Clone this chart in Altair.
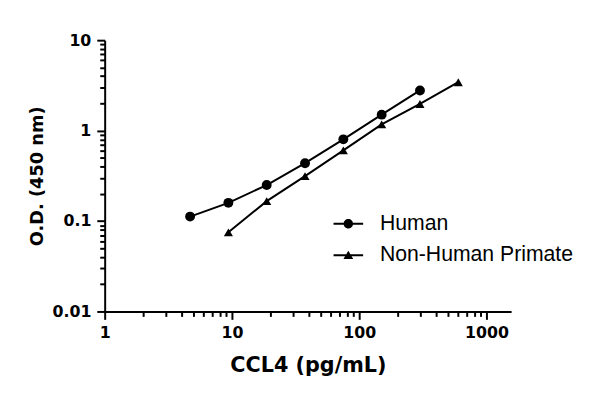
import altair as alt
import pandas as pd

# Data
series_names = ["Human", "Non-Human Primate"]
human_x = [4.6875, 9.375, 18.75, 37.5, 75, 150, 300]
human_y = [0.112, 0.159, 0.25, 0.436, 0.80, 1.50, 2.78]
nhp_x = [9.375, 18.75, 37.5, 75, 150, 300, 600]
nhp_y = [0.075, 0.166, 0.314, 0.604, 1.17, 1.97, 3.43]

x_ticks = [1, 2, 3, 4, 5, 6, 7, 8, 9,
           10, 20, 30, 40, 50, 60, 70, 80, 90,
           100, 200, 300, 400, 500, 600, 700, 800, 900, 1000]
y_ticks = [0.01, 0.02, 0.03, 0.04, 0.05, 0.06, 0.07, 0.08, 0.09,
           0.1, 0.2, 0.3, 0.4, 0.5, 0.6, 0.7, 0.8, 0.9,
           1, 2, 3, 4, 5, 6, 7, 8, 9, 10]

df = pd.concat([
    pd.DataFrame({"conc": human_x, "od": human_y, "series": series_names[0]}),
    pd.DataFrame({"conc": nhp_x, "od": nhp_y, "series": series_names[1]}),
], ignore_index=True)

major = "abs(log(datum.value)/LN10 - round(log(datum.value)/LN10)) < 1e-6"
num_font = "DejaVu Sans"

x_axis = alt.Axis(
    values=x_ticks, title="CCL4 (pg/mL)", format="~g",
    labelExpr=f"({major}) ? datum.label : ''",
    tickSize={"condition": {"test": major, "value": 8}, "value": 5},
    tickWidth=2, domainWidth=2, domainColor="black", tickColor="black",
    labelFont=num_font, labelFontWeight="bold", labelFontSize=16, labelColor="black",
    labelPadding=5, labelFlush=False, labelOverlap=False,
    titleFont=num_font, titleFontWeight="bold", titleFontSize=21, titleColor="black",
    titlePadding=15, grid=False,
)
y_axis = alt.Axis(
    values=y_ticks, title="O.D. (450 nm)", format="~g",
    labelExpr=f"({major}) ? datum.label : ''",
    tickSize={"condition": {"test": major, "value": 8}, "value": 5},
    tickWidth=2, domainWidth=2, domainColor="black", tickColor="black",
    labelFont=num_font, labelFontWeight="bold", labelFontSize=16, labelColor="black",
    labelPadding=6, labelFlush=False, labelOverlap=False,
    titleFont=num_font, titleFontWeight="bold", titleFontSize=18, titleColor="black",
    titlePadding=6, grid=False,
)

xs = alt.Scale(type="log", domain=[1, 1560], nice=False)
ys = alt.Scale(type="log", domain=[0.01, 10], nice=False)

base = alt.Chart(df)

lines = base.mark_line(color="black", strokeWidth=2).encode(
    x=alt.X("conc:Q", scale=xs, axis=x_axis),
    y=alt.Y("od:Q", scale=ys, axis=y_axis),
    detail="series:N",
)

circles = base.transform_filter(alt.datum.series == series_names[0]).mark_point(
    shape="circle", filled=True, color="black", size=100, opacity=1
).encode(x="conc:Q", y="od:Q")

triangles = base.transform_filter(alt.datum.series == series_names[1]).mark_point(
    shape="triangle-up", filled=True, color="black", size=85, opacity=1
).encode(x="conc:Q", y="od:Q")

# legend glyphs: short horizontal bar plus the marker (all filled, clockwise)
circle_path = ("M-1,-0.067H1V0.067H-1Z"
               "M-0.32,0A0.32,0.32,0,1,1,0.32,0A0.32,0.32,0,1,1,-0.32,0Z")
tri_path = "M-1,-0.067H1V0.067H-1ZM0,-0.3L0.33,0.25L-0.33,0.25Z"

legend_layer = base.transform_filter("false").mark_point(
    filled=True, color="black", opacity=1
).encode(
    x="conc:Q", y="od:Q",
    shape=alt.Shape(
        "series:N",
        scale=alt.Scale(domain=series_names, range=[circle_path, tri_path]),
        legend=alt.Legend(
            title=None, orient="none", legendX=232, legendY=171,
            symbolSize=900, symbolFillColor="black",
            symbolStrokeWidth=0, symbolOpacity=1,
            labelFont="Liberation Sans", labelFontSize=21.5, labelColor="black",
            labelOffset=17, labelLimit=0, rowPadding=6, padding=0,
        ),
    ),
)

chart = alt.layer(lines, circles, triangles, legend_layer).properties(
    width=412, height=275,
    autosize=alt.AutoSizeParams(type="none"),
    padding={"left": 98, "top": 30, "right": 82, "bottom": 76},
).configure_view(stroke=None)

chart.save("out.html", embed_options={"renderer": "svg", "actions": False})
